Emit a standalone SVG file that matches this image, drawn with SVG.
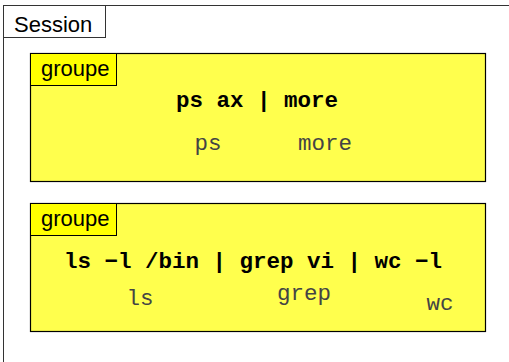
<svg xmlns="http://www.w3.org/2000/svg" width="509" height="362" viewBox="0 0 509 362">
  <style>
    .frame { fill: #ffffff; stroke: #333333; stroke-width: 1; }
    .group { fill: #ffff4d; stroke: #000000; stroke-width: 1.2; }
    .tab { fill: #ffff00; stroke: #000000; stroke-width: 1; }
    .tabw { fill: #ffffff; stroke: #333333; stroke-width: 1; }
    .label { font-family: "Liberation Sans", Arial, sans-serif; font-size: 22px; fill: #000000; }
    .cmd { font-family: "Liberation Mono", "Courier New", monospace; font-size: 22.5px; font-weight: bold; fill: #000000; }
    .proc { font-family: "Liberation Mono", "Courier New", monospace; font-size: 22.5px; fill: #444444; }
  </style>

  <!-- session frame -->
  <g id="session">
    <rect class="frame" x="3.5" y="5.5" width="520" height="370"/>
    <rect class="tabw" x="3.5" y="5.5" width="102" height="32"/>
    <text class="label" x="14" y="31.5">Session</text>
  </g>

  <!-- first process group -->
  <g id="groupe1">
    <rect class="group" x="30.5" y="53.5" width="455" height="128"/>
    <rect class="tab" x="30.5" y="53.5" width="86" height="32"/>
    <text class="label" x="41" y="75.5">groupe</text>
    <text class="cmd" x="257" y="107" text-anchor="middle">ps ax | more</text>
    <text class="proc" x="208" y="150" text-anchor="middle">ps</text>
    <text class="proc" x="325" y="150" text-anchor="middle">more</text>
  </g>

  <!-- second process group -->
  <g id="groupe2">
    <rect class="group" x="30.5" y="203.5" width="455" height="128"/>
    <rect class="tab" x="30.5" y="203.5" width="86" height="32"/>
    <text class="label" x="41" y="225.5">groupe</text>
    <text class="cmd" x="253" y="268" text-anchor="middle">ls −l /bin | grep vi | wc −l</text>
    <text class="proc" x="140" y="305" text-anchor="middle">ls</text>
    <text class="proc" x="304" y="300" text-anchor="middle">grep</text>
    <text class="proc" x="440" y="310" text-anchor="middle">wc</text>
  </g>

  <g id="connectors"/>
</svg>
